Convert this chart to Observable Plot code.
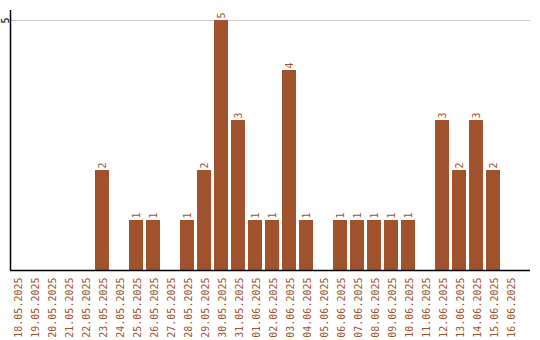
<!DOCTYPE html>
<html>
<head>
<meta charset="utf-8">
<script src="https://cdn.jsdelivr.net/npm/d3@7"></script>
<script src="https://cdn.jsdelivr.net/npm/@observablehq/plot@0.6"></script>
<style>
  html, body { margin: 0; padding: 0; background: #fff; }
</style>
</head>
<body>
<div id="chart"></div>
<script>
const dates = ["18.05.2025","19.05.2025","20.05.2025","21.05.2025","22.05.2025","23.05.2025","24.05.2025","25.05.2025","26.05.2025","27.05.2025","28.05.2025","29.05.2025","30.05.2025","31.05.2025","01.06.2025","02.06.2025","03.06.2025","04.06.2025","05.06.2025","06.06.2025","07.06.2025","08.06.2025","09.06.2025","10.06.2025","11.06.2025","12.06.2025","13.06.2025","14.06.2025","15.06.2025","16.06.2025"];
const counts = [0,0,0,0,0,2,0,1,1,0,1,2,5,3,1,1,4,1,0,1,1,1,1,1,0,3,2,3,2,0];
const yTicks = [5];

const data = dates.map((d, i) => ({date: d, count: counts[i]}));
const color = "#a0522d";
const font = "DejaVu Sans Mono, monospace";

const leftAxisLine = (index, scales, values, dims) => {
  const svg = d3.create("svg:line")
    .attr("x1", dims.marginLeft + 0.5).attr("x2", dims.marginLeft + 0.5)
    .attr("y1", dims.marginTop).attr("y2", dims.height - dims.marginBottom)
    .attr("stroke", "black").attr("stroke-width", 1.5);
  return svg.node();
};

const chart = Plot.plot({
  width: 540,
  height: 340,
  marginLeft: 10,
  marginRight: 10,
  marginTop: 10,
  marginBottom: 70,
  style: {background: "#fff", fontFamily: font, fontSize: "10px"},
  x: {domain: dates, paddingInner: 3/17, paddingOuter: 0.382, align: 0, axis: null},
  y: {domain: [0, 5.2], axis: null},
  marks: [
    Plot.ruleY(yTicks, {stroke: "#cccccc", strokeWidth: 1}),
    Plot.barY(data, {x: "date", y: "count", fill: color}),
    Plot.text(data.filter(d => d.count > 0), {
      x: "date", y: "count", text: d => String(d.count),
      rotate: -90, textAnchor: "start", lineAnchor: "middle", dy: -2,
      fill: color, fontSize: 10
    }),
    Plot.text(dates, {
      x: d => d, text: d => d, frameAnchor: "bottom",
      rotate: -90, textAnchor: "end", lineAnchor: "middle", dy: 7, dx: 1,
      fill: color, fontSize: 10
    }),
    Plot.text(yTicks, {
      y: d => d, text: d => String(d), frameAnchor: "left",
      rotate: -90, textAnchor: "middle", lineAnchor: "middle", dx: -5,
      fill: "black", fontSize: 10
    }),
    Plot.ruleY([0], {stroke: "black", strokeWidth: 1.5}),
    leftAxisLine
  ]
});
document.getElementById("chart").appendChild(chart);
</script>
</body>
</html>
